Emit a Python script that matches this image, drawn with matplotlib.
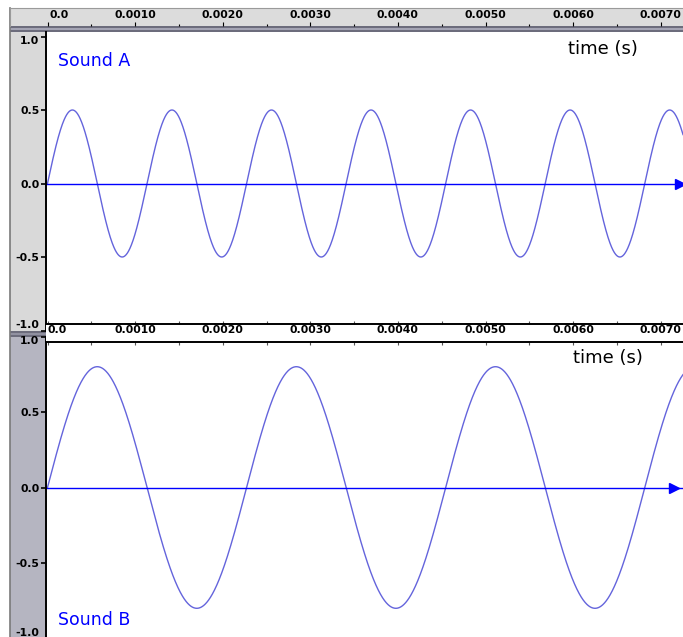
import numpy as np
import matplotlib
matplotlib.use("Agg")
import matplotlib.pyplot as plt
from matplotlib.patches import Rectangle
from matplotlib.lines import Line2D

# two tracks, a pure tone each
sounds = ["Sound A", "Sound B"]
freqs_hz = [880, 440]
amplitudes = [0.5, 0.8]

tick_times = [0.0, 0.001, 0.002, 0.003, 0.004, 0.005, 0.006, 0.007]
tick_labels = ["0.0", "0.0010", "0.0020", "0.0030", "0.0040", "0.0050", "0.0060", "0.0070"]
minor_times = [0.0005, 0.0015, 0.0025, 0.0035, 0.0045, 0.0055, 0.0065]
amp_ticks = [-1.0, -0.5, 0.0, 0.5, 1.0]
amp_labels = ["-1.0", "-0.5", "0.0", "0.5", "1.0"]

W, H = 683, 637
X0 = 47.5          # pixel where t = 0
PX_PER_S = 87600.0

WAVE_COLOR = "#6464dc"
AXIS_BLUE = "#0000ff"
RULER_FONT = dict(fontsize=7.8, fontweight="bold", family="DejaVu Sans")

fig = plt.figure(figsize=(W / 100, H / 100), dpi=100)


def box(x0, y0, x1, y1):
    return [x0 / W, 1 - y1 / H, (x1 - x0) / W, (y1 - y0) / H]


def rect(x0, y0, x1, y1, color):
    fig.add_artist(Rectangle((x0 / W, 1 - y1 / H), (x1 - x0) / W, (y1 - y0) / H,
                             transform=fig.transFigure, facecolor=color,
                             edgecolor="none", zorder=-1))


def vline(x, y0, y1, color, lw):
    fig.add_artist(Line2D([x / W, x / W], [1 - y0 / H, 1 - y1 / H],
                          transform=fig.transFigure, color=color, lw=lw, zorder=-0.5))


def xlim_for(x0, x1):
    return ((x0 - X0) / PX_PER_S, (x1 - X0) / PX_PER_S)


# chrome: left columns, dividers
rect(10, 32, 45, 331, "#d9d9d9")
rect(10, 331, 46, 337, "#6c6c7c")
rect(10, 333, 46, 335, "#9090a0")
rect(10, 337, 45, 637, "#b5b5c1")
rect(10, 26, 683, 32, "#6c6c7c")
rect(10, 27.5, 683, 30, "#a4a4b4")
vline(10, 8, 637, "#7a7a7a", 1.2)
vline(45.5, 32, 37, "black", 1.4)

# top ruler
ax_top = fig.add_axes(box(10, 8, 683, 26))
ax_top.set_facecolor("#dcdcdc")
ax_top.set_xlim(*xlim_for(10, 683))
ax_top.set_ylim(0, 1)
ax_top.set_yticks([])
for s in ["right", "bottom"]:
    ax_top.spines[s].set_visible(False)
for s in ["top", "left"]:
    ax_top.spines[s].set_color("#9a9a9a")
ax_top.set_xticks(tick_times)
ax_top.set_xticks(minor_times, minor=True)
ax_top.tick_params(axis="x", which="major", direction="in", length=3, width=0.8,
                   labelbottom=False)
ax_top.tick_params(axis="x", which="minor", direction="in", length=1.2, width=0.8)
for t, lab in zip(tick_times, tick_labels):
    ha = "left" if t == 0 else "center"
    off = 0.00002 if t == 0 else 0
    ax_top.text(t + off, 0.62, lab, ha=ha, va="center", **RULER_FONT)

# wave panels
panels = [(36.5, 330.5), (336.5, 638.5)]
axes = []
for (y0, y1), name, f, a in zip(panels, sounds, freqs_hz, amplitudes):
    ax = fig.add_axes(box(46, y0, 683, y1))
    ax.set_facecolor("white")
    lo, hi = xlim_for(46, 683)
    ax.set_xlim(lo, hi)
    ax.set_ylim(-1, 1)
    t = np.linspace(0, hi, 3000)
    ax.plot(t, a * np.sin(2 * np.pi * f * t), color=WAVE_COLOR, lw=1)
    ax.axhline(0, color=AXIS_BLUE, lw=1)
    for s in ["top", "right", "bottom"]:
        ax.spines[s].set_visible(False)
    ax.spines["left"].set_linewidth(1.4)
    ax.set_xticks([])
    ax.set_yticks(amp_ticks, amp_labels)
    ax.tick_params(axis="y", direction="out", length=3.5, width=1.2, pad=1.2,
                   labelsize=7.8)
    for lbl in ax.get_yticklabels():
        lbl.set_fontweight("bold")
        if lbl.get_text() == "1.0":
            lbl.set_va("top")
        elif lbl.get_text() == "-1.0":
            lbl.set_va("bottom")
    axes.append(ax)

ax_a, ax_b = axes
ax_a.plot([(680 - X0) / PX_PER_S], [0], marker=">", ms=6.5, color=AXIS_BLUE)
ax_b.plot([(674 - X0) / PX_PER_S], [0], marker=">", ms=6.5, color=AXIS_BLUE)

# middle ruler (on top of both panels)
ax_mid = fig.add_axes(box(46, 324, 683, 342), zorder=3)
ax_mid.set_facecolor("white")
ax_mid.set_xlim(*xlim_for(46, 683))
ax_mid.set_ylim(0, 1)
ax_mid.set_yticks([])
for s in ["left", "right"]:
    ax_mid.spines[s].set_visible(False)
for s in ["top", "bottom"]:
    ax_mid.spines[s].set_linewidth(1.4)
ax_mid.set_xticks(tick_times)
ax_mid.set_xticks(minor_times, minor=True)
ax_mid.tick_params(axis="x", which="both", direction="out", length=2.2, width=0.8,
                   top=True, bottom=True, labelbottom=False, color="#555555")
for t, lab in zip(tick_times, tick_labels):
    ha = "left" if t == 0 else "center"
    ax_mid.text(t, 0.64, lab, ha=ha, va="center", **RULER_FONT)

# labels
fig.text(58 / W, 1 - 61 / H, sounds[0], color=AXIS_BLUE, fontsize=12.5, va="center")
fig.text(58 / W, 1 - 620 / H, sounds[1], color=AXIS_BLUE, fontsize=12.5, va="center")
fig.text(568 / W, 1 - 49 / H, "time (s)", color="black", fontsize=13, va="center")
fig.text(573 / W, 1 - 358 / H, "time (s)", color="black", fontsize=13, va="center")

fig.savefig("out.png", dpi=100)
